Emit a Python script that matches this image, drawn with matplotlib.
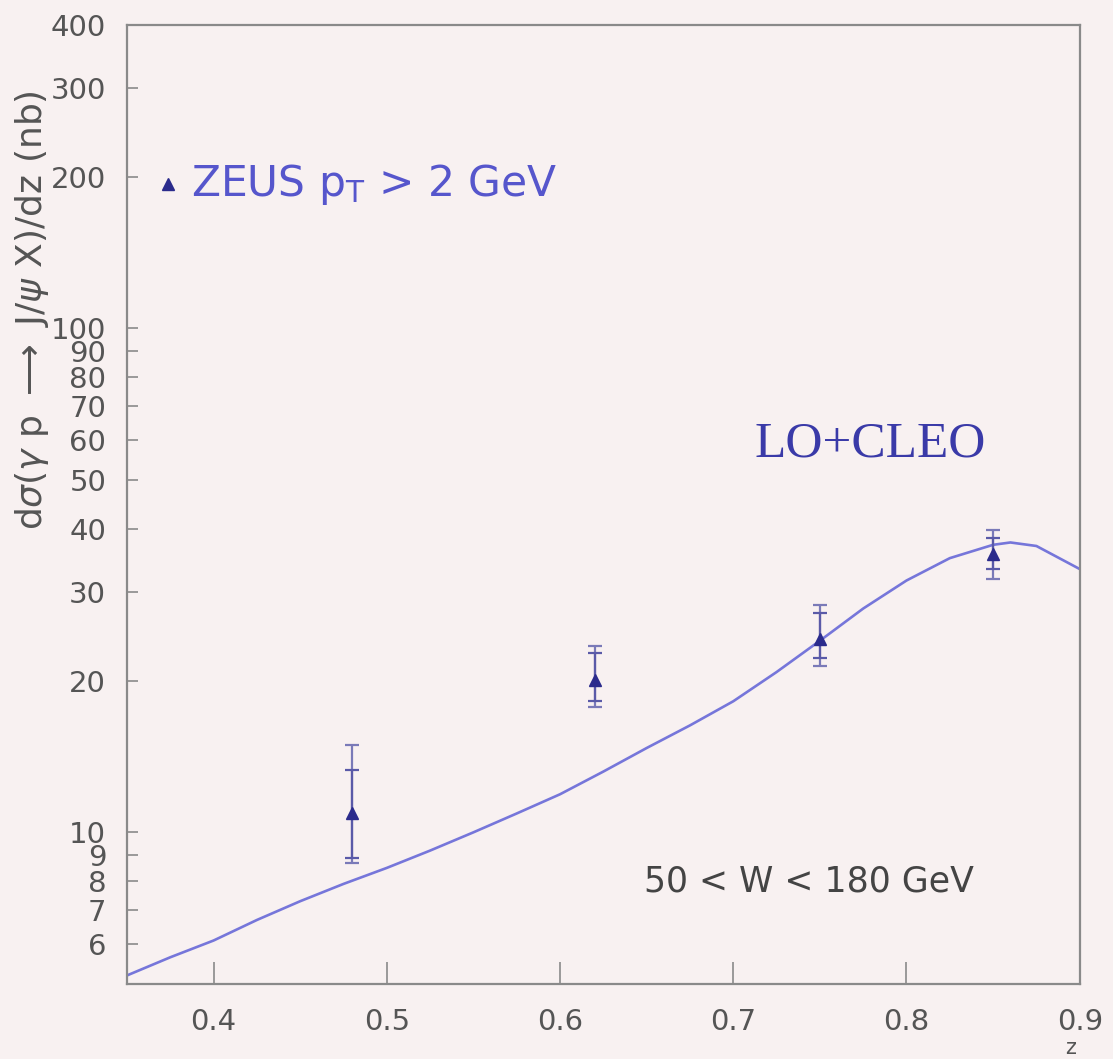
import numpy as np
import matplotlib
matplotlib.use("Agg")
import matplotlib.pyplot as plt
from matplotlib.ticker import FixedLocator, FixedFormatter, NullLocator

# ZEUS J/psi photoproduction, d sigma / dz with p_T > 2 GeV
z_data = [0.48, 0.62, 0.75, 0.85]
xsec = [10.9, 20.1, 24.2, 35.7]
stat_hi = [13.3, 22.7, 27.2, 38.4]
stat_lo = [8.9, 18.2, 22.2, 33.3]
tot_hi = [14.9, 23.4, 28.2, 39.8]
tot_lo = [8.7, 17.7, 21.4, 31.8]

# LO + CLEO prediction
z_theory = [0.35, 0.375, 0.40, 0.425, 0.45, 0.475, 0.50, 0.525, 0.55,
            0.575, 0.60, 0.625, 0.65, 0.675, 0.70, 0.725, 0.75, 0.775,
            0.80, 0.825, 0.85, 0.86, 0.875, 0.90]
xsec_theory = [5.2, 5.65, 6.1, 6.7, 7.3, 7.9, 8.5, 9.2, 10.0,
               10.9, 11.9, 13.2, 14.7, 16.3, 18.2, 20.8, 24.0, 27.8,
               31.6, 35.0, 37.2, 37.6, 37.0, 33.3]

y_ticks = [6, 7, 8, 9, 10, 20, 30, 40, 50, 60, 70, 80, 90, 100, 200, 300, 400]
y_tick_labels = [str(v) for v in y_ticks]
x_ticks = [0.4, 0.5, 0.6, 0.7, 0.8, 0.9]
x_tick_labels = ["0.4", "0.5", "0.6", "0.7", "0.8", "0.9"]

bg = "#f8f1f1"
frame = "#8a8a8a"
tick_col = "#555555"
curve_col = "#7676da"
point_col = "#2b2b8c"

fig = plt.figure(figsize=(11.13, 10.59), dpi=100, facecolor=bg)
ax = fig.add_axes([0.1141, 0.0708, 0.8560, 0.9056], facecolor=bg)
ax.set_yscale("log")
ax.set_xlim(0.35, 0.90)
ax.set_ylim(5, 400)

ax.plot(z_theory, xsec_theory, color=curve_col, lw=1.9, zorder=2)

z = np.array(z_data)
y = np.array(xsec)
ax.errorbar(z, y, yerr=[y - np.array(tot_lo), np.array(tot_hi) - y],
            fmt="none", ecolor="#7a7ab8", elinewidth=1.6, capsize=5,
            capthick=1.6, zorder=3)
ax.errorbar(z, y, yerr=[y - np.array(stat_lo), np.array(stat_hi) - y],
            fmt="none", ecolor="#5a5aa8", elinewidth=1.6, capsize=5,
            capthick=1.6, zorder=3)
ax.plot(z, y, linestyle="none", marker="^", ms=9, color=point_col, zorder=4)

for s in ax.spines.values():
    s.set_color(frame)
    s.set_linewidth(1.6)

ax.yaxis.set_major_locator(FixedLocator(y_ticks))
ax.yaxis.set_major_formatter(FixedFormatter(y_tick_labels))
ax.yaxis.set_minor_locator(NullLocator())
ax.xaxis.set_major_locator(FixedLocator(x_ticks))
ax.xaxis.set_major_formatter(FixedFormatter(x_tick_labels))
ax.tick_params(axis="y", direction="in", length=8, width=1.2, color=frame,
               labelsize=21, labelcolor=tick_col, pad=15)
ax.tick_params(axis="x", direction="in", length=16, width=1.2, color=frame,
               labelsize=21, labelcolor=tick_col, pad=17)

fig.text(0.962, 0.010, "z", ha="center", va="center", fontsize=15,
         color=tick_col)

fig.text(0.029, 0.707, r"d$\sigma$($\gamma$ p $\longrightarrow$ J/$\psi$ X)/dz (nb)",
         rotation=90, ha="center", va="center", fontsize=26, color=tick_col)

ax.plot([0.3735], [193], marker="^", ms=9, color=point_col, linestyle="none",
        clip_on=False)
ax.text(0.387, 193, r"ZEUS $\mathregular{p_T}$ > 2 GeV", ha="left",
        va="center", fontsize=30.5, color="#5656cc")

ax.text(0.779, 59, "LO+CLEO", ha="center", va="center", fontsize=37,
        family="Liberation Serif", color="#3a3aa8")

ax.text(0.7437, 8.0, "50 < W < 180 GeV", ha="center", va="center",
        fontsize=25, color="#444444")

fig.savefig("out.png", dpi=100, facecolor=bg)
